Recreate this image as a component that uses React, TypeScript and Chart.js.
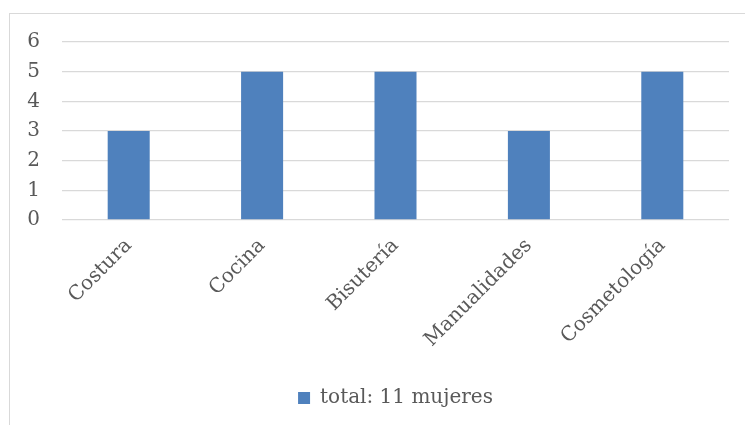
import React, { useEffect, useRef } from "react";
import { Chart, registerables } from "chart.js";

Chart.register(...registerables);

const categories = ["Costura", "Cocina", "Bisutería", "Manualidades", "Cosmetología"];
const seriesLabel = "total: 11 mujeres";
const seriesValues = [3, 5, 5, 3, 5];
const yTicks = [0, 1, 2, 3, 4, 5, 6];

const FONT = "'DejaVu Serif', serif";
const TEXT = "#595959";
const GRID = "#d9d9d9";
const BAR = "#4f81bd";

export default function App() {
  const ref = useRef<HTMLCanvasElement | null>(null);

  useEffect(() => {
    if (!ref.current) return;
    const chart = new Chart(ref.current, {
      type: "bar",
      data: {
        labels: categories,
        datasets: [
          {
            label: seriesLabel,
            data: seriesValues,
            backgroundColor: BAR,
            borderWidth: 0,
            categoryPercentage: 1,
            barPercentage: 0.315,
          },
        ],
      },
      options: {
        responsive: false,
        animation: false,
        layout: { padding: { top: 28, right: 16, bottom: 7, left: 0 } },
        plugins: {
          tooltip: { enabled: false },
          legend: {
            position: "bottom",
            fullSize: false,
            labels: {
              boxWidth: 12,
              boxHeight: 12,
              color: TEXT,
              font: { family: FONT, size: 20 },
              padding: 10,
            },
          },
        },
        scales: {
          x: {
            grid: { display: false, drawTicks: false },
            border: { display: false },
            ticks: {
              color: TEXT,
              font: { family: FONT, size: 20 },
              minRotation: 45,
              maxRotation: 45,
              autoSkip: false,
              padding: 14,
            },
            afterFit: (s: any) => {
              s.height = 158;
            },
          },
          y: {
            min: yTicks[0],
            max: yTicks[yTicks.length - 1],
            grid: { color: GRID, lineWidth: 1.3, drawTicks: false },
            border: { display: false },
            ticks: {
              stepSize: 1,
              color: TEXT,
              font: { family: FONT, size: 20 },
              padding: 22,
            },
            afterFit: (s: any) => {
              s.width = 52;
              s.paddingTop = 0;
              s.paddingBottom = 0;
            },
          },
        },
      },
    });
    return () => chart.destroy();
  }, []);

  return (
    <div
      style={{
        position: "absolute",
        left: 9,
        top: 13,
        width: 736,
        height: 412,
        borderTop: "1px solid #d9d9d9",
        borderLeft: "1px solid #d9d9d9",
        overflow: "hidden",
      }}
    >
      <canvas ref={ref} width={735} height={411} style={{ display: "block" }} />
    </div>
  );
}
